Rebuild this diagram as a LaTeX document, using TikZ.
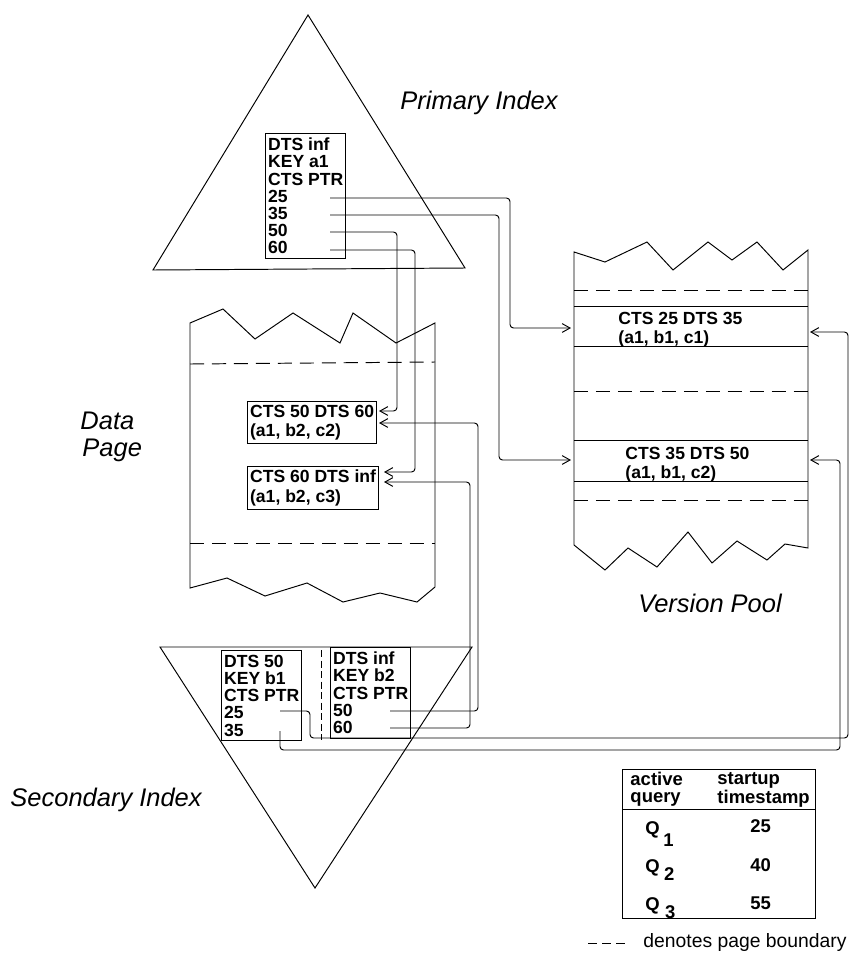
\documentclass[tikz,border=0pt]{standalone}
\usepackage{fontspec}
\setmainfont{Liberation Sans}
\usetikzlibrary{arrows.meta,calc}

\tikzset{
  keybox/.style={draw, anchor=north west, align=left, inner xsep=1.5pt, inner ysep=2.5pt,
    font=\bfseries\fontsize{10}{9.8}\selectfont},
  recbox/.style={draw, anchor=north west, align=left, inner xsep=1.5pt, inner ysep=2pt,
    font=\bfseries\fontsize{10}{11}\selectfont},
  vptext/.style={anchor=north west, align=left, inner sep=0pt,
    font=\bfseries\fontsize{10}{10.5}\selectfont},
  region/.style={inner sep=0pt, align=left, font=\itshape\fontsize{14.5}{12}\selectfont},
  tabtext/.style={inner sep=0pt, align=left, font=\bfseries\fontsize{10.5}{9.6}\selectfont},
  ptr/.style={rounded corners=2pt, -{Straight Barb[length=4.5pt,width=5pt]}},
  pagebreak/.style={dash pattern=on 8pt off 4.5pt},
}

\begin{document}
\begin{tikzpicture}[x=0.02cm, y=-0.02cm, line width=0.55pt]
\useasboundingbox (0,0) rectangle (849,967);

% primary index
\draw (308,15) -- (465,268) -- (153,270) -- cycle;
\node[region, anchor=west] (plab) at (400,103) {Primary Index};
\node[keybox] (pk) at (265,133) {DTS inf\\KEY a1\\CTS PTR\\25\\35\\50\\60};
\coordinate (p25) at (330,198);
\coordinate (p35) at (330,215);
\coordinate (p50) at (330,232);
\coordinate (p60) at (330,250);

% data page
\draw (190,323) -- (223,309) -- (255,339) -- (293,313) -- (340,343) -- (353,313)
  -- (396,343) -- (435,323) -- (435,587) -- (417,602) -- (380,593) -- (343,602)
  -- (307,583) -- (265,596) -- (227,578) -- (190,588) -- cycle;
\draw[pagebreak] (190,364) -- (435,362);
\draw[pagebreak] (190,543) -- (435,543);
\node[region, anchor=base west] (dlab1) at (80,429) {Data};
\node[region, anchor=base west] (dlab2) at (82,456) {Page};
\node[recbox] (d1) at (247,401) {CTS 50 DTS 60\\(a1, b2, c2)};
\node[recbox] (d2) at (247,466) {CTS 60 DTS inf\\(a1, b2, c3)};
\coordinate (d1p) at (379,411);
\coordinate (d1s) at (379,423);
\coordinate (d2p) at (384,472);
\coordinate (d2s) at (384,482);

% version pool
\draw (574,252) -- (605,262) -- (647,242) -- (673,270) -- (708,242) -- (732,260)
  -- (757,242) -- (783,270) -- (808,250) -- (808,548) -- (785,544) -- (767,560)
  -- (737,541) -- (712,563) -- (688,532) -- (657,567) -- (628,548) -- (605,570)
  -- (574,545) -- cycle;
\draw[pagebreak] (574,290) -- (808,290);
\draw (574,306) -- (808,306);
\draw (574,346) -- (808,346);
\draw[pagebreak] (574,391) -- (808,391);
\draw (574,440) -- (808,440);
\draw (574,481) -- (808,481);
\draw[pagebreak] (574,500) -- (808,500);
\node[vptext] (v1) at (618,312) {CTS 25 DTS 35\\(a1, b1, c1)};
\node[vptext] (v2) at (625,447) {CTS 35 DTS 50\\(a1, b1, c2)};
\node[region] (vlab) at (710,603) {Version Pool};
\coordinate (v1w) at (571,328);
\coordinate (v2w) at (571,460);
\coordinate (v1e) at (810,332);
\coordinate (v2e) at (810,460);

% secondary index
\draw (160,647) -- (472,647) -- (315,888) -- cycle;
\node[region, anchor=west] (slab) at (10,800) {Secondary Index};
\node[keybox] (s1) at (221,650) {DTS 50\\KEY b1\\CTS PTR\\25\\35};
\node[keybox] (s2) at (330,647) {DTS inf\\KEY b2\\CTS PTR\\50\\60};
\draw[dash pattern=on 4pt off 2pt] (321,650) -- (321,740);
\coordinate (s1r25) at (280,711);
\coordinate (s1r35) at (280,731);
\coordinate (s2r50) at (390,711);
\coordinate (s2r60) at (390,728);

% pointers
\draw[ptr] (p25) -- (510,198) |- (v1w);
\draw[ptr] (p35) -- (499,215) |- (v2w);
\draw[ptr] (p50) -- (397,232) |- (d1p);
\draw[ptr] (p60) -- (415,250) |- (d2p);
\draw[ptr] (s2r50) -- (478,711) |- (d1s);
\draw[ptr] (s2r60) -- (470,728) |- (d2s);
\draw[ptr] (s1r25) -| (310,738) -- (848,738) |- (v1e);
\draw[ptr] (s1r35) |- (840,750) |- (v2e);

% active queries
\draw (622,769) rectangle (815,918);
\draw (622,809) -- (815,809);
\node[tabtext, anchor=north west] (qh1) at (630,772) {active\\query};
\node[tabtext, anchor=north west] (qh2) at (717,772) {startup\\timestamp};
\node[tabtext, anchor=base west] (q1) at (645,834) {Q\hspace{2pt}\raisebox{-7pt}{1}};
\node[tabtext, anchor=base west] (t1) at (750,832) {25};
\node[tabtext, anchor=base west] (q2) at (645,872) {Q\hspace{2.5pt}\raisebox{-4.7pt}{2}};
\node[tabtext, anchor=base west] (t2) at (750,871) {40};
\node[tabtext, anchor=base west] (q3) at (645,910) {Q\hspace{3pt}\raisebox{-4.7pt}{3}};
\node[tabtext, anchor=base west] (t3) at (750,909) {55};

% legend
\draw[dash pattern=on 5pt off 3pt] (588,943) -- (626,943);
\node[anchor=west, inner sep=0pt, font=\fontsize{11}{12}\selectfont] (leg) at (643,942) {denotes page boundary};
\end{tikzpicture}
\end{document}
